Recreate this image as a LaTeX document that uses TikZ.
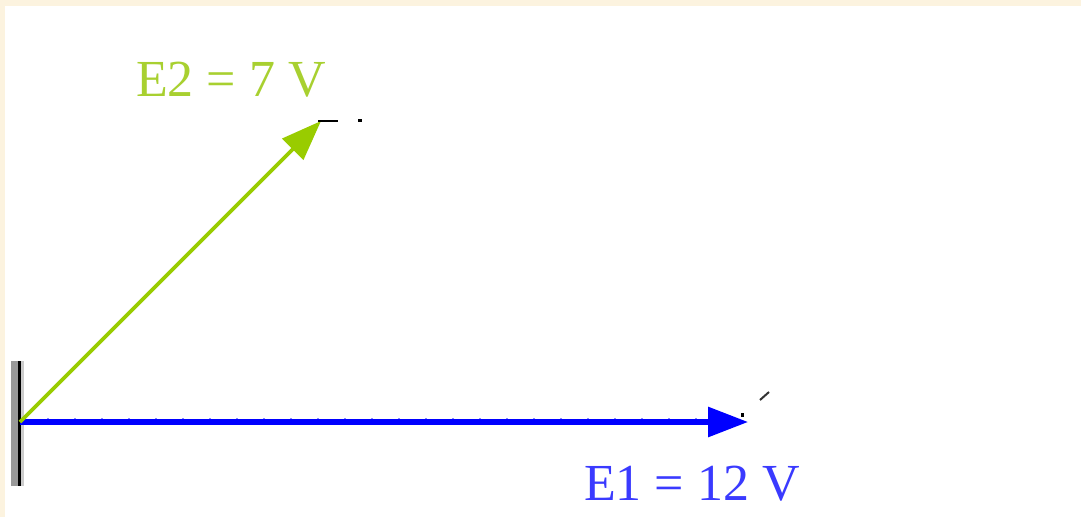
\documentclass[tikz,border=0pt]{standalone}
\usepackage{fontspec}
\setmainfont{Liberation Serif}
\usetikzlibrary{arrows.meta}
\definecolor{cream}{HTML}{FCF3DF}
\definecolor{vgreen}{HTML}{99CC00}
\definecolor{lgreen}{HTML}{A8D030}
\definecolor{vblue}{HTML}{0000FF}
\definecolor{lblue}{HTML}{3A3AFF}
\tikzset{
  vec/.style={line width=#1, -{Triangle[length=30pt,width=22pt]}},
  lab/.style={font=\fontsize{39}{39}\selectfont, inner sep=0pt, anchor=base},
  smallmark/.style={draw=black, line width=1.5pt}
}
\begin{document}
\begin{tikzpicture}[x=0.75pt,y=-0.75pt]
\useasboundingbox (0,0) rectangle (1081,517);
\fill[white] (0,0) rectangle (1081,517);
\fill[cream] (0,0) rectangle (1081,6);
\fill[cream] (0,0) rectangle (5,517);
% wall bar
\fill[gray!80] (11,361) rectangle (18,486);
\fill[black] (18,361) rectangle (21,486);
\fill[gray!40] (21,361) rectangle (24,486);
\coordinate (O) at (20,422);
\coordinate (T1) at (748,422);
\coordinate (T2) at (321,121);
% ticks on blue line
\foreach \x in {47,74,101,128,155,182,209,236,263,290,317,344,371,398,425,452,479,506,533,560,587,614,641,668,695}
  \fill[vblue!45] (\x,418) rectangle (\x+2,420);
\draw[vec=3.8pt, vblue] (O) -- (T1);
\draw[vec=2.8pt, vgreen] (O) -- (T2);
% small marks
\draw[smallmark] (318,120.5) -- (338,120.5);
\fill[black] (358,119) rectangle (362,122);
\fill[black] (741,413) rectangle (744,417);
\draw[black!80, line width=1.5pt] (760,400) -- (769,392);
% labels
\node[lab, text=lgreen] (e2) at (231,97) {E2 = 7 V};
\node[lab, text=lblue] (e1) at (692,500) {E1 = 12 V};
\end{tikzpicture}
\end{document}
